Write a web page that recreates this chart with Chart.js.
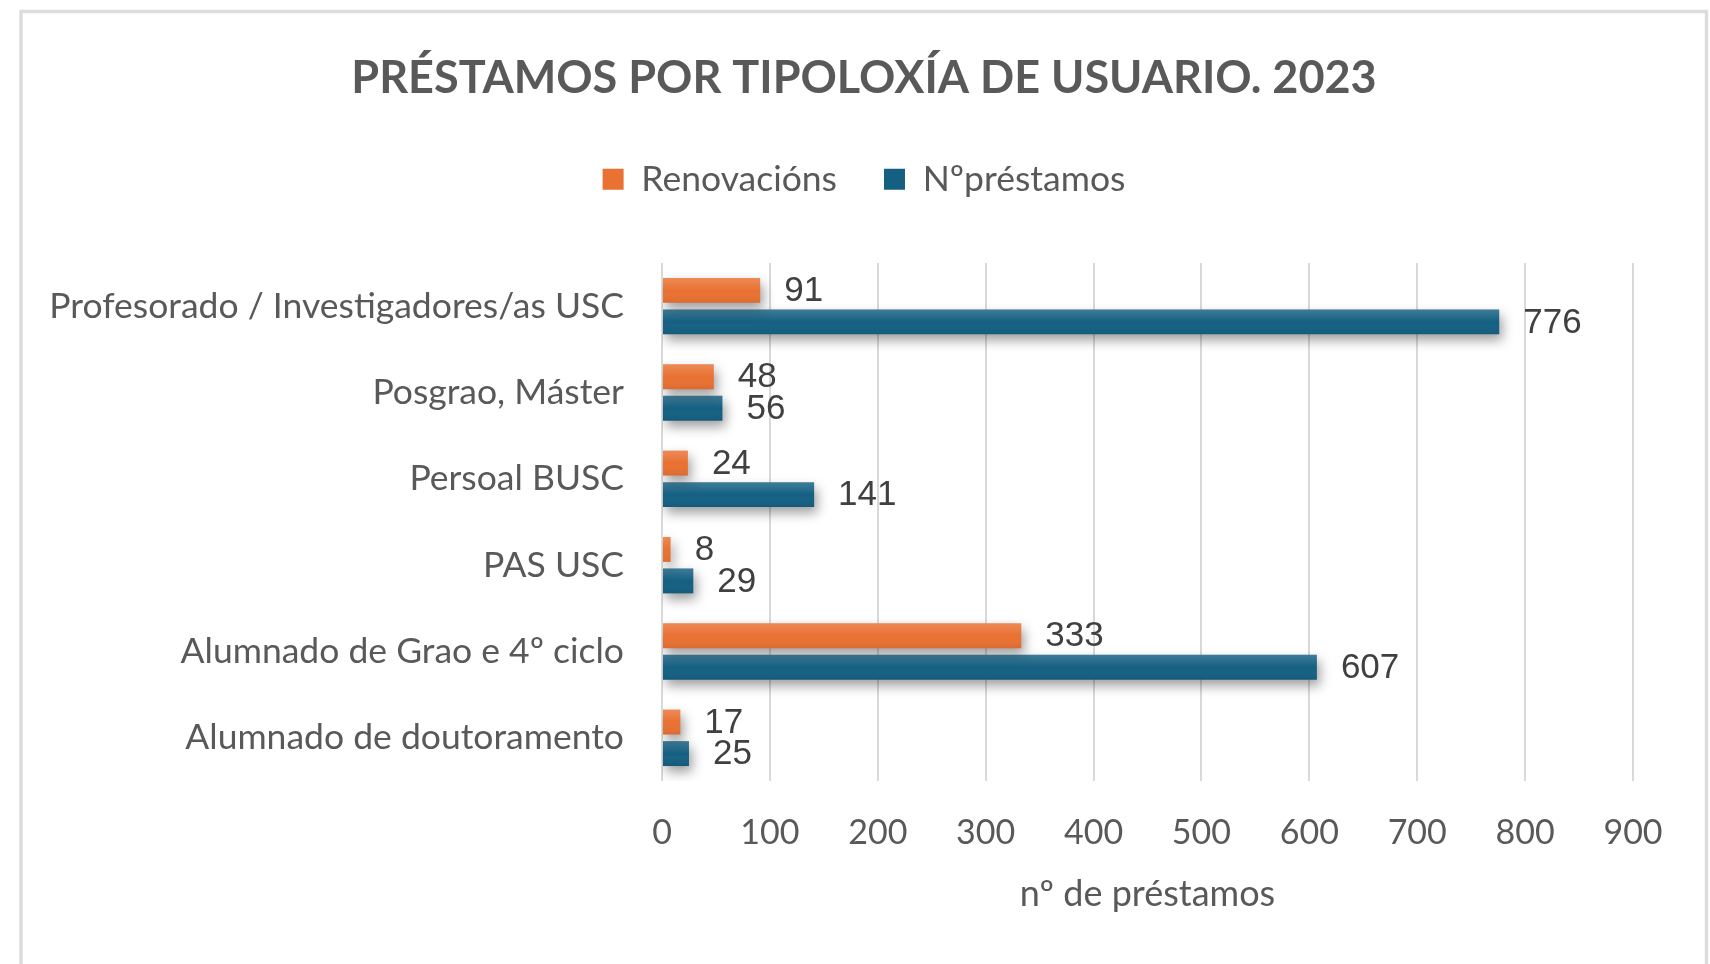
<!DOCTYPE html>
<html>
<head>
<meta charset="utf-8">
<script src="https://cdn.jsdelivr.net/npm/chart.js@4.4.1/dist/chart.umd.min.js"></script>
<style>
  html, body { margin: 0; padding: 0; background: #ffffff; overflow: hidden; }
  #cv { display: block; }
</style>
</head>
<body>
<canvas id="cv" width="1710" height="964"></canvas>
<script>
const chartTitle = 'PRÉSTAMOS POR TIPOLOXÍA DE USUARIO. 2023';
const categories = [
  'Profesorado / Investigadores/as USC',
  'Posgrao, Máster',
  'Persoal BUSC',
  'PAS USC',
  'Alumnado de Grao e 4º ciclo',
  'Alumnado de doutoramento'
];
const seriesNames = ['Renovacións', 'Nºpréstamos'];
const renovacions = [91, 48, 24, 8, 333, 17];
const prestamos = [776, 56, 141, 29, 607, 25];
const xTicks = [0, 100, 200, 300, 400, 500, 600, 700, 800, 900];
const xAxisTitle = 'nº de préstamos';

const ORANGE = '#E97132';
const BLUE = '#156082';
const TEXT = '#595959';
const FONT = 'Lato, "Open Sans", sans-serif';

const framePlugin = {
  id: 'frame',
  beforeDraw(chart) {
    const ctx = chart.ctx;
    ctx.save();
    ctx.fillStyle = '#ffffff';
    ctx.fillRect(0, 0, chart.width, chart.height);
    ctx.strokeStyle = '#dcdcdc';
    ctx.lineWidth = 3.5;
    ctx.strokeRect(21, 11.5, chart.width - 24.5, chart.height + 20);
    ctx.restore();
  }
};

const shadowPlugin = {
  id: 'barShadow',
  beforeDatasetsDraw(chart) {
    const ctx = chart.ctx;
    ctx.save();
    ctx.shadowColor = 'rgba(0,0,0,0.38)';
    ctx.shadowBlur = 12;
    ctx.shadowOffsetX = 3;
    ctx.shadowOffsetY = 6;
  },
  afterDatasetsDraw(chart) {
    const ctx = chart.ctx;
    ctx.restore();
    chart.data.datasets.forEach((ds, di) => {
      const meta = chart.getDatasetMeta(di);
      meta.data.forEach((el) => {
        const top = el.y - el.height / 2;
        const left = Math.min(el.x, el.base);
        const w = Math.abs(el.x - el.base);
        const g = ctx.createLinearGradient(0, top, 0, top + el.height);
        g.addColorStop(0, 'rgba(255,255,255,0.18)');
        g.addColorStop(0.5, 'rgba(255,255,255,0.0)');
        g.addColorStop(1, 'rgba(0,0,0,0.06)');
        ctx.fillStyle = g;
        ctx.fillRect(left, top, w, el.height);
      });
    });
    ctx.save();
    ctx.font = '35px "Liberation Sans", Arial, sans-serif';
    ctx.fillStyle = '#404040';
    ctx.textAlign = 'left';
    ctx.textBaseline = 'middle';
    chart.data.datasets.forEach((ds, di) => {
      const meta = chart.getDatasetMeta(di);
      meta.data.forEach((el, i) => {
        ctx.fillText(String(ds.data[i]), el.x + 24, el.y + 1);
      });
    });
    ctx.restore();
  }
};

const legendGap = {
  id: 'legendGap',
  beforeInit(chart) {
    const origFit = chart.legend.fit;
    chart.legend.fit = function () {
      origFit.bind(chart.legend)();
      this.height += 56;
    };
  }
};

new Chart(document.getElementById('cv'), {
  type: 'bar',
  data: {
    labels: categories,
    datasets: [
      { label: seriesNames[0], data: renovacions, backgroundColor: ORANGE, borderWidth: 0,
        xAxisID: 'x', yAxisID: 'y', categoryPercentage: 0.73, barPercentage: 0.79 },
      { label: seriesNames[1], data: prestamos, backgroundColor: BLUE, borderWidth: 0,
        xAxisID: 'x', yAxisID: 'y', categoryPercentage: 0.73, barPercentage: 0.79 }
    ]
  },
  options: {
    indexAxis: 'y',
    responsive: false,
    animation: false,
    devicePixelRatio: 1,
    layout: { padding: { top: 14, left: 20, right: 2, bottom: 40 } },
    plugins: {
      title: {
        display: true,
        text: chartTitle,
        color: TEXT,
        font: { family: FONT, size: 45, weight: 'bold', lineHeight: 1.2 },
        padding: { top: 37, bottom: 9.5 }
      },
      legend: {
        display: true,
        position: 'top',
        labels: {
          color: TEXT,
          font: { family: FONT, size: 35.5 },
          boxWidth: 21,
          boxHeight: 21,
          padding: 47
        }
      },
      tooltip: { enabled: false }
    },
    scales: {
      x: {
        min: 0,
        max: 900,
        afterBuildTicks(scale) { scale.ticks = xTicks.map(v => ({ value: v })); },
        afterFit(scale) { scale.height = 143; },
        grid: { color: '#d9d9d9', lineWidth: 2, drawTicks: false },
        border: { display: false },
        ticks: {
          color: TEXT,
          padding: 32,
          font: { family: FONT, size: 34, lineHeight: 1.2 }
        },
        title: {
          display: true,
          text: xAxisTitle,
          color: TEXT,
          font: { family: FONT, size: 36, lineHeight: 1.1 },
          padding: { top: 0, bottom: 10 }
        }
      },
      y: {
        position: 'left',
        grid: { display: false },
        border: { display: false },
        afterFit(scale) { scale.width = 642; },
        ticks: {
          color: TEXT,
          padding: 30,
          font: { family: FONT, size: 35.5 }
        }
      },
      yRightSpace: {
        type: 'linear',
        axis: 'y',
        position: 'right',
        display: true,
        grid: { display: false },
        border: { display: false },
        ticks: { display: false },
        afterFit(scale) { scale.width = 75; }
      }
    }
  },
  plugins: [framePlugin, legendGap, shadowPlugin]
});
</script>
</body>
</html>
